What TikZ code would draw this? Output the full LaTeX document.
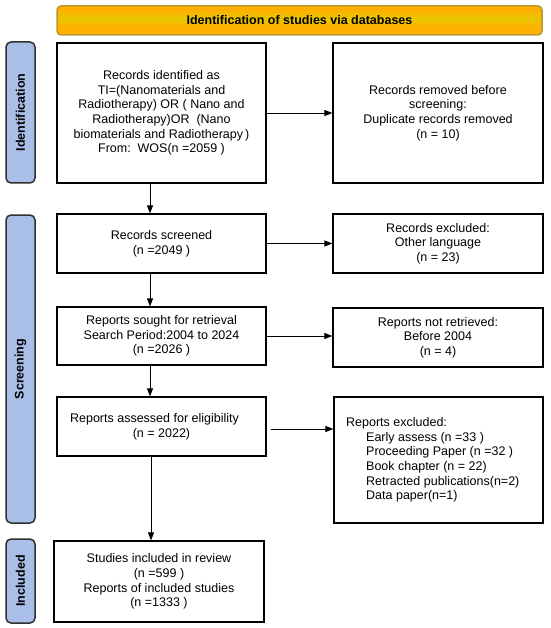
\documentclass[tikz,border=0pt]{standalone}
\usepackage{fontspec}
\setmainfont{Liberation Sans}
\usetikzlibrary{arrows.meta,calc}
\definecolor{bannerorange}{HTML}{FFB000}
\definecolor{banneryellow}{HTML}{E6C600}
\definecolor{bannerborder}{HTML}{B89A30}
\definecolor{sidebarblue}{HTML}{A9BFE8}
\definecolor{sidebarborder}{HTML}{303030}
\begin{document}
\begin{tikzpicture}[x=1pt,y=-1pt,
  every node/.style={font=\fontsize{12.5}{14.6}\selectfont},
  flowbox/.style={draw=black,line width=1.2pt,fill=white,inner sep=0pt,align=center},
  sidebar/.style={draw=sidebarborder,line width=1.5pt,fill=sidebarblue,rounded corners=5pt,inner sep=0pt},
  sidelabel/.style={rotate=90,font=\bfseries\fontsize{12.5}{14}\selectfont},
  arr/.style={draw=black,line width=0.8pt,-{Triangle[length=8pt,width=6pt]}}
]
\useasboundingbox (0,0) rectangle (550,628);
\fill[white] (0,0) rectangle (550,628);

% banner background: orange with a yellow middle band
\fill[bannerorange,rounded corners=4pt] (57,6) rectangle (542,35);
\shade[top color=bannerorange,bottom color=bannerorange,middle color=banneryellow] (58,10) rectangle (541,27);
\node[draw=bannerborder,line width=1.5pt,rounded corners=4pt,
      minimum width=485pt,minimum height=29pt,inner sep=0pt,
      font=\bfseries\fontsize{12.5}{14}\selectfont] (banner) at (299.5,20.5)
      {Identification of studies via databases};

% side bars
\node[sidebar,minimum width=29pt,minimum height=141pt] (idbar) at (20.5,112.5) {};
\node[sidelabel] (idlab) at (idbar.center) {Identification};
\node[sidebar,minimum width=29pt,minimum height=308pt] (scrbar) at (20.5,369) {};
\node[sidelabel] (scrlab) at (scrbar.center) {Screening};
\node[sidebar,minimum width=29pt,minimum height=84pt] (incbar) at (20.5,581) {};
\node[sidelabel] (inclab) at (incbar.center) {Included};

% left column
\node[flowbox,minimum width=209pt,minimum height=140pt] (b1) at (161.5,113)
  {Records identified as\\TI=(Nanomaterials and\\Radiotherapy) OR ( Nano and\\Radiotherapy)OR \ (Nano\\biomaterials and Radiotherapy\,)\\From:\ \ WOS(n =2059 )};
\node[flowbox,minimum width=209pt,minimum height=59pt] (scr) at (161.5,243.5)
  {Records screened\\(n =2049 )};
\node[flowbox,minimum width=209pt,minimum height=58pt] (ret) at (161.5,336)
  {Reports sought for retrieval\\Search Period:2004 to 2024\\(n =2026 )};
\node[flowbox,minimum width=209pt,minimum height=59pt] (elig) at (161.5,426.5)
  {Reports assessed for eligibility\hspace*{14pt}\\(n = 2022)};
\node[flowbox,minimum width=210pt,minimum height=81pt] (inc) at (159,581.5)
  {Studies included in review\\(n =599 )\\Reports of included studies\\(n =1333 )};

% right column
\node[flowbox,minimum width=210pt,minimum height=140pt] (rm) at (438,113)
  {Records removed before\\screening:\\Duplicate records removed\\(n = 10)};
\node[flowbox,minimum width=210pt,minimum height=59pt] (exc) at (438,243.5)
  {Records excluded:\\Other language\\(n = 23)};
\node[flowbox,minimum width=210pt,minimum height=59pt] (nret) at (438,337.5)
  {Reports not retrieved:\\Before 2004\\(n = 4)};
\node[flowbox,minimum width=209pt,minimum height=126pt] (rexc) at (438.5,460) {};
\node[anchor=west,align=left,inner sep=0pt] (rexct) at (346,460)
  {Reports excluded:\\
   \hspace*{20pt}Early assess (n =33 )\\
   \hspace*{20pt}Proceeding Paper (n =32 )\\
   \hspace*{20pt}Book chapter (n = 22)\\
   \hspace*{20pt}Retracted publications(n=2)\\
   \hspace*{20pt}Data paper(n=1)};

% horizontal arrows
\draw[arr] (b1.east) -- (rm.west);
\draw[arr] (scr.east) -- (exc.west);
\draw[arr] (ret.east) -- (ret.east -| nret.west);
\draw[arr] ([xshift=4pt,yshift=-2.5pt]elig.east) -- ([yshift=-2.5pt]elig.east -| rexc.west);

% vertical arrows
\draw[arr] ([xshift=-11.5pt]b1.south) -- ([xshift=-11.5pt]b1.south |- scr.north);
\draw[arr] ([xshift=-11.5pt]scr.south) -- ([xshift=-11.5pt]scr.south |- ret.north);
\draw[arr] ([xshift=-11.5pt]ret.south) -- ([xshift=-11.5pt]ret.south |- elig.north);
\draw[arr] ([xshift=-10.5pt]elig.south) -- ([xshift=-10.5pt]elig.south |- inc.north);
\end{tikzpicture}
\end{document}
